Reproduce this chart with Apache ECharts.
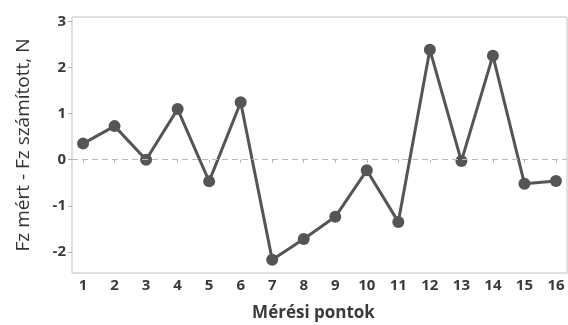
<!DOCTYPE html>
<html><head><meta charset="utf-8">
<script src="https://cdn.jsdelivr.net/npm/echarts@6/dist/echarts.min.js"></script>
<style>html,body{margin:0;padding:0;background:#fff}#c{width:568px;height:325px}</style>
</head><body><div id="c"></div>
<script>
const points = [1,2,3,4,5,6,7,8,9,10,11,12,13,14,15,16];
const diffs = [0.35,0.73,0.0,1.10,-0.47,1.25,-2.17,-1.72,-1.24,-0.23,-1.35,2.39,-0.03,2.26,-0.52,-0.46];
const yTicks = [-2,-1,0,1,2,3];
const xTitle = 'Mérési pontok';
const yTitle = 'Fz mért - Fz számított, N';

const chart = echarts.init(document.getElementById('c'), null, {renderer:'canvas'});
const font = '"Open Sans", sans-serif';
chart.setOption({
  animation:false,
  grid:{left:72,right:1,top:17,bottom:52,show:true,borderColor:'#c0c0c0',borderWidth:1,outerBoundsMode:'none',containLabel:false},
  xAxis:{type:'value',min:0.65,max:16.35,
    axisLine:{show:false},
    splitLine:{show:false},
    axisTick:{show:true,length:3,customValues:points,lineStyle:{color:'#b0b0b0'}},
    axisLabel:{customValues:points,color:'#3a3a3a',fontFamily:font,fontWeight:'bold',fontSize:15,margin:5},
    name:xTitle,nameLocation:'middle',nameGap:32,
    nameTextStyle:{color:'#3a3a3a',fontFamily:font,fontWeight:'bold',fontSize:17,verticalAlign:'top',padding:[0,12,0,0]}
  },
  yAxis:{type:'value',min:-2.46,max:3.1,
    axisLine:{show:false},
    splitLine:{show:false},
    axisTick:{show:true,length:4,customValues:yTicks,lineStyle:{color:'#b0b0b0'}},
    axisLabel:{customValues:yTicks,color:'#3a3a3a',fontFamily:font,fontWeight:'bold',fontSize:15,margin:6},
    name:yTitle,nameLocation:'middle',nameGap:39,nameRotate:90,
    nameTextStyle:{color:'#333',fontFamily:font,fontWeight:'normal',fontSize:19}
  },
  series:[{
    type:'line',
    data:points.map((p,i)=>[p,diffs[i]]),
    symbol:'circle',symbolSize:12,
    lineStyle:{color:'#555',width:3},
    itemStyle:{color:'#555'},
    markLine:{silent:true,symbol:'none',label:{show:false},
      lineStyle:{color:'#bbb',type:[6,4],width:1},
      data:[{yAxis:0}]}
  }]
});
</script></body></html>
